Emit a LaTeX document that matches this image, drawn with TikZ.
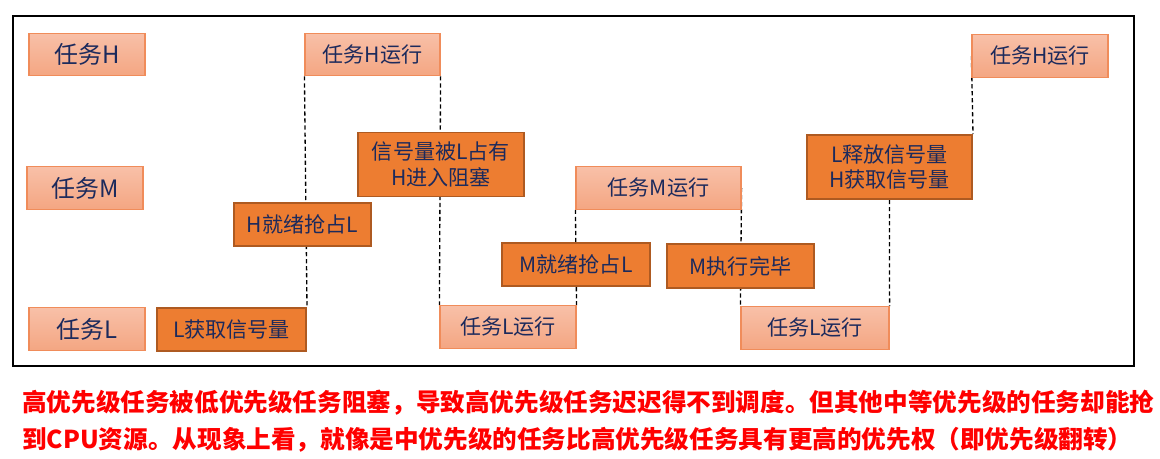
\documentclass[tikz,border=0pt]{standalone}
\usepackage{fontspec}
\setmainfont{Noto Sans CJK SC}
\usetikzlibrary{positioning,backgrounds}

\definecolor{navy}{RGB}{28,42,92}
\definecolor{tasktop}{RGB}{248,192,168}
\definecolor{taskbot}{RGB}{244,166,130}
\definecolor{taskline}{RGB}{240,140,90}
\definecolor{evfill}{RGB}{237,125,49}
\definecolor{evline}{RGB}{174,90,33}
\definecolor{notered}{RGB}{255,0,0}

\begin{document}
\begin{tikzpicture}[
    x=0.025cm, y=-0.025cm,
    task/.style  = {draw=taskline,line width=0.8pt,top color=tasktop,bottom color=taskbot,inner sep=0pt,minimum height=1.06cm,text=navy,font=\fontsize{15}{18}\selectfont},
    lane/.style  = {task,minimum width=2.9cm,font=\fontsize{17}{20}\selectfont},
    event/.style = {draw=evline,line width=1.4pt,fill=evfill,inner sep=0pt,minimum height=1.08cm,text=navy,align=center,font=\fontsize{15}{18}\selectfont},
    note/.style  = {anchor=west,inner sep=0pt,text=notered,font=\bfseries\fontsize{17.5}{20}\selectfont},
    link/.style  = {dash pattern=on 3pt off 2pt,line width=0.95pt}
  ]

  \useasboundingbox (0,0) rectangle (1160,459);
  \draw[line width=0.9pt] (13,16) rectangle (1134,366);

  \foreach \n/\x/\y/\t in {tH/87/54.5/H, tM/85/188/M, tL/87/329/L} {
    \node[lane] (\n) at (\x,\y) {任务\t};
  }

  \node[task,minimum width=3.375cm] (hRunA) at (372.5,54.5) {任务H运行};
  \node[task,minimum width=3.4cm]   (lRunA) at (508,327)    {任务L运行};
  \node[task,minimum width=4.125cm] (mRun)  at (658.5,188)  {任务M运行};
  \node[task,minimum width=3.7cm]   (lRunB) at (815,328)    {任务L运行};
  \node[task,minimum width=3.4cm]   (hRunB) at (1040,56)    {任务H运行};

  \node[event,minimum width=3.725cm] (lTake)    at (231.5,329.5) {L获取信号量};
  \node[event,minimum width=3.425cm] (hReady)   at (302.5,224.5) {H就绪抢占L};
  \node[event,minimum width=4.15cm,minimum height=1.6cm] (hBlock) at (441,164.5) {信号量被L占有\\H进入阻塞};
  \node[event,minimum width=3.7cm]   (mReady)   at (576,264.5)   {M就绪抢占L};
  \node[event,minimum width=3.675cm] (mDone)    at (740.5,266)   {M执行完毕};
  \node[event,minimum width=4.125cm,minimum height=1.6cm] (lRelease) at (889.5,167) {L释放信号量\\H获取信号量};

  \begin{scope}[on background layer]
    \draw[link] (hRunA.south west) -- (lTake.north east);
    \draw[link] (hRunA.south east) -- (lRunA.north west);
    \draw[link] (mRun.south west)  -- (lRunA.north east);
    \draw[link] (mRun.east)        -- (lRunB.north west);
    \draw[link] (lRelease.south)   -- (lRunB.north east);
    \draw[link] (hRunB.west)       -- (lRelease.north east);
  \end{scope}

  \node[note] (noteA) at (22,403) {高优先级任务被低优先级任务阻塞，导致高优先级任务迟迟得不到调度。但其他中等优先级的任务却能抢};
  \node[note] (noteB) at (22,440) {到CPU资源。从现象上看，就像是中优先级的任务比高优先级任务具有更高的优先权（即优先级翻转）};

\end{tikzpicture}
\end{document}
